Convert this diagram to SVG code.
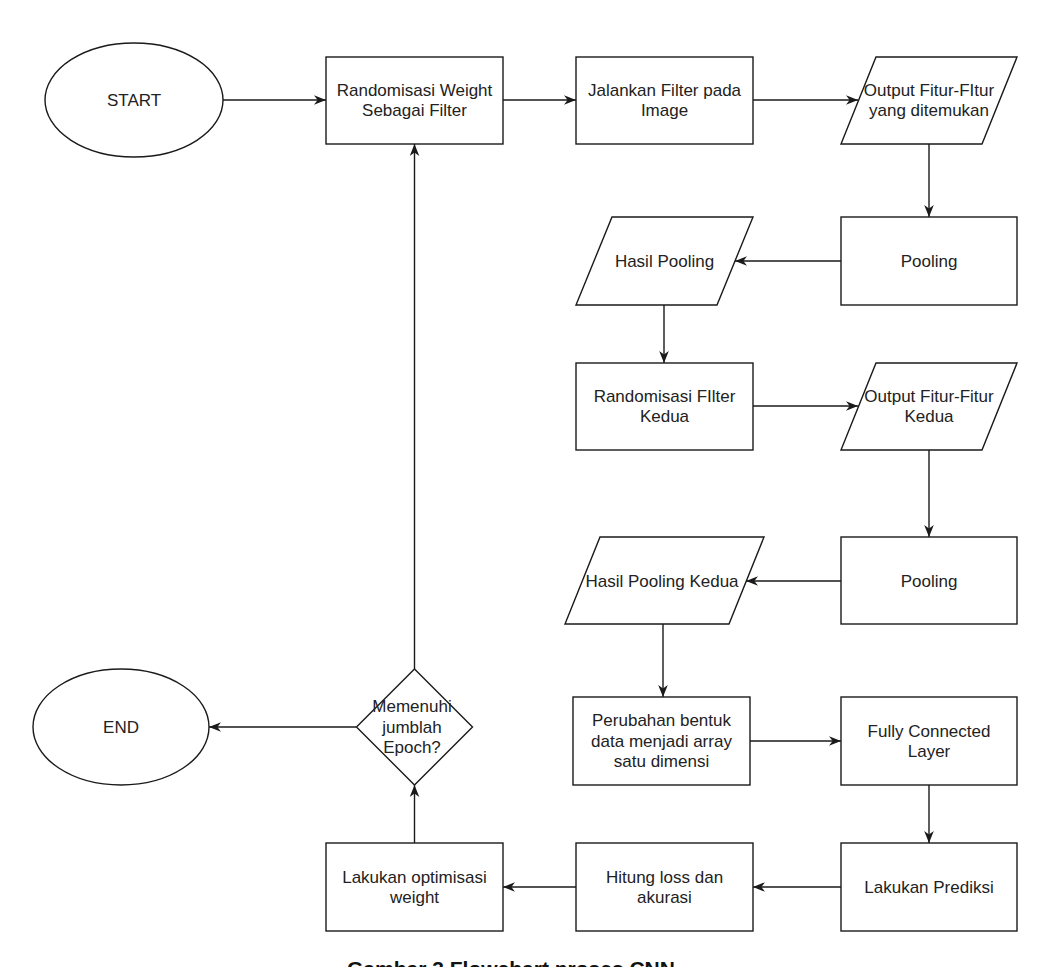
<svg xmlns="http://www.w3.org/2000/svg" width="1055" height="967" viewBox="0 0 1055 967">
<defs>
<style>
.s{fill:#fff;stroke:#1a1a1a;stroke-width:1.4}
.t{font-family:"Liberation Sans",Arial,sans-serif;font-size:17px;fill:#222;text-anchor:middle}
.c{fill:none;stroke:#1a1a1a;stroke-width:1.4}
.cap{font-family:"Liberation Sans",Arial,sans-serif;font-size:21px;font-weight:bold;fill:#111;text-anchor:middle}
</style>
<marker id="a" viewBox="0 0 10 8" refX="10" refY="4" markerWidth="12" markerHeight="10" markerUnits="userSpaceOnUse" orient="auto">
<path d="M0,0 L10,4 L0,8 L3,4 Z" fill="#1a1a1a"/>
</marker>
</defs>
<rect width="1055" height="967" fill="#fff"/>
<g id="connectors">
<path class="c" marker-end="url(#a)" d="M223,100 L326,100"/>
<path class="c" marker-end="url(#a)" d="M503,100 L576,100"/>
<path class="c" marker-end="url(#a)" d="M753,100 L858,100"/>
<path class="c" marker-end="url(#a)" d="M929,144 L929,217"/>
<path class="c" marker-end="url(#a)" d="M841,261 L735,261"/>
<path class="c" marker-end="url(#a)" d="M664,305 L664,363"/>
<path class="c" marker-end="url(#a)" d="M753,406 L858,406"/>
<path class="c" marker-end="url(#a)" d="M929,450 L929,537"/>
<path class="c" marker-end="url(#a)" d="M841,581 L746,581"/>
<path class="c" marker-end="url(#a)" d="M663,624 L663,697"/>
<path class="c" marker-end="url(#a)" d="M750,741 L841,741"/>
<path class="c" marker-end="url(#a)" d="M929,785 L929,843"/>
<path class="c" marker-end="url(#a)" d="M841,887 L753,887"/>
<path class="c" marker-end="url(#a)" d="M576,887 L503,887"/>
<path class="c" marker-end="url(#a)" d="M414.5,843 L414.5,785"/>
<path class="c" marker-end="url(#a)" d="M356.5,727 L209,727"/>
<path class="c" marker-end="url(#a)" d="M414.5,669 L414.5,144"/>
</g>
<g id="start">
<ellipse class="s" cx="134" cy="100" rx="89" ry="57"/>
<text class="t" x="134" y="106">START</text>
</g>
<g id="rand-weight">
<rect class="s" x="326" y="57" width="177" height="87"/>
<text class="t" x="414.5" y="96">Randomisasi Weight</text>
<text class="t" x="414.5" y="116">Sebagai Filter</text>
</g>
<g id="jalankan">
<rect class="s" x="576" y="57" width="177" height="87"/>
<text class="t" x="664.5" y="96">Jalankan Filter pada</text>
<text class="t" x="664.5" y="116">Image</text>
</g>
<g id="output1">
<polygon class="s" points="876,57 1017,57 982,144 841,144"/>
<text class="t" x="929" y="96">Output Fitur-FItur</text>
<text class="t" x="929" y="116">yang ditemukan</text>
</g>
<g id="pooling1">
<rect class="s" x="841" y="217" width="176" height="88"/>
<text class="t" x="929" y="267">Pooling</text>
</g>
<g id="hasil1">
<polygon class="s" points="612,217 753,217 717,305 576,305"/>
<text class="t" x="664.5" y="267">Hasil Pooling</text>
</g>
<g id="rand-filter2">
<rect class="s" x="576" y="363" width="177" height="87"/>
<text class="t" x="664.5" y="402">Randomisasi FIlter</text>
<text class="t" x="664.5" y="422">Kedua</text>
</g>
<g id="output2">
<polygon class="s" points="876,363 1017,363 982,450 841,450"/>
<text class="t" x="929" y="402">Output Fitur-Fitur</text>
<text class="t" x="929" y="422">Kedua</text>
</g>
<g id="pooling2">
<rect class="s" x="841" y="537" width="176" height="87"/>
<text class="t" x="929" y="587">Pooling</text>
</g>
<g id="hasil2">
<polygon class="s" points="600,537 764,537 729,624 565,624"/>
<text class="t" x="662" y="587">Hasil Pooling Kedua</text>
</g>
<g id="perubahan">
<rect class="s" x="573" y="697" width="177" height="88"/>
<text class="t" x="661.5" y="726">Perubahan bentuk</text>
<text class="t" x="661.5" y="747">data menjadi array</text>
<text class="t" x="661.5" y="767">satu dimensi</text>
</g>
<g id="fully">
<rect class="s" x="841" y="697" width="176" height="88"/>
<text class="t" x="929" y="737">Fully Connected</text>
<text class="t" x="929" y="757">Layer</text>
</g>
<g id="prediksi">
<rect class="s" x="841" y="843" width="176" height="88"/>
<text class="t" x="929" y="893">Lakukan Prediksi</text>
</g>
<g id="hitung">
<rect class="s" x="576" y="843" width="177" height="88"/>
<text class="t" x="664.5" y="883">Hitung loss dan</text>
<text class="t" x="664.5" y="903">akurasi</text>
</g>
<g id="optimisasi">
<rect class="s" x="326" y="843" width="177" height="88"/>
<text class="t" x="414.5" y="883">Lakukan optimisasi</text>
<text class="t" x="414.5" y="903">weight</text>
</g>
<g id="decision">
<polygon class="s" points="414.5,669 472.5,727 414.5,785 356.5,727"/>
<text class="t" x="412" y="712">Memenuhi</text>
<text class="t" x="412" y="733">jumblah</text>
<text class="t" x="412" y="753">Epoch?</text>
</g>
<g id="end">
<ellipse class="s" cx="121" cy="727" rx="88" ry="58"/>
<text class="t" x="121" y="733">END</text>
</g>
<text class="cap" x="511" y="976">Gambar 3 Flowchart proses CNN</text>
</svg>
